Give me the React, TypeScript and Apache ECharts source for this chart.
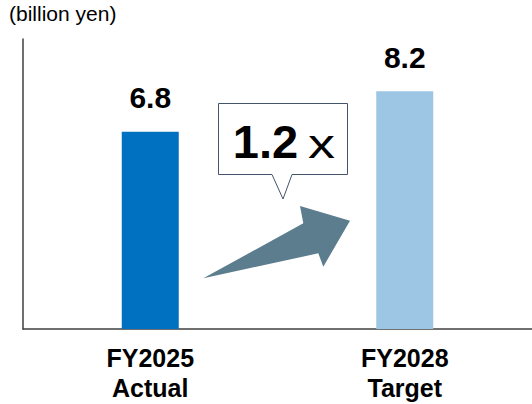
import React, { useEffect, useRef } from "react";
import * as echarts from "echarts";

const categories = ["FY2025\nActual", "FY2028\nTarget"];
const values = [6.8, 8.2];
const barColors = ["#0070c0", "#9dc6e5"];
const unitLabel = "(billion yen)";
const multipleBold = "1.2";
const multipleUnit = "x";

const FONT = "Arial, 'Liberation Sans', sans-serif";

export default function App() {
  const ref = useRef<HTMLDivElement>(null);
  useEffect(() => {
    if (!ref.current) return;
    const chart = echarts.init(ref.current, null, { renderer: "svg" });
    chart.setOption({
      animation: false,
      backgroundColor: "#ffffff",
      grid: { left: 23, right: 0, top: 39, bottom: 75, containLabel: false },
      xAxis: {
        type: "category",
        data: categories,
        axisLine: { show: true, lineStyle: { color: "#404040", width: 1.5 } },
        axisTick: { show: false },
        axisLabel: {
          margin: 14,
          fontFamily: FONT,
          fontSize: 25,
          fontWeight: "bold",
          color: "#000000",
          lineHeight: 30,
        },
      },
      yAxis: {
        type: "value",
        min: 0,
        max: 10,
        interval: 2,
        axisLine: { show: true, lineStyle: { color: "#404040", width: 1.5 } },
        axisTick: { show: false },
        axisLabel: { show: false },
        splitLine: { show: false },
      },
      series: [
        {
          type: "bar",
          barWidth: 57,
          data: values.map((v, i) => ({ value: v, itemStyle: { color: barColors[i] } })),
          label: {
            show: true,
            position: "top",
            distance: 19,
            fontFamily: FONT,
            fontSize: 30,
            fontWeight: "bold",
            color: "#000000",
            formatter: (p: any) => p.value.toFixed(1),
          },
        },
      ],
      graphic: [
        {
          type: "text",
          left: 9,
          top: 3,
          style: { text: unitLabel, fontFamily: FONT, fontSize: 21, fill: "#000000" },
        },
        {
          type: "polygon",
          shape: {
            points: [
              [203.3, 278.3],
              [303.3, 223.3],
              [300, 206],
              [350, 220.7],
              [323.3, 266.7],
              [318.3, 253.3],
            ],
          },
          style: { fill: "#5b7d8e" },
        },
        {
          type: "polygon",
          shape: {
            points: [
              [218.5, 103.5],
              [347.5, 103.5],
              [347.5, 174.5],
              [292, 174.5],
              [283, 199],
              [272, 174.5],
              [218.5, 174.5],
            ],
          },
          style: { fill: "#ffffff", stroke: "#44546a", lineWidth: 1 },
        },
        {
          type: "text",
          x: 265.5,
          y: 141.5,
          style: {
            text: multipleBold,
            fontFamily: FONT,
            fontSize: 47,
            fontWeight: "bold",
            fill: "#000000",
            align: "center",
            verticalAlign: "middle",
          },
        },
        {
          type: "text",
          x: 321.5,
          y: 144,
          scaleX: 1.35,
          style: {
            text: multipleUnit,
            fontFamily: FONT,
            fontSize: 40,
            fill: "#000000",
            align: "center",
            verticalAlign: "middle",
          },
        },
      ],
    });
    return () => chart.dispose();
  }, []);
  return <div ref={ref} style={{ width: 532, height: 404, position: "absolute", left: 0, top: 0 }} />;
}
